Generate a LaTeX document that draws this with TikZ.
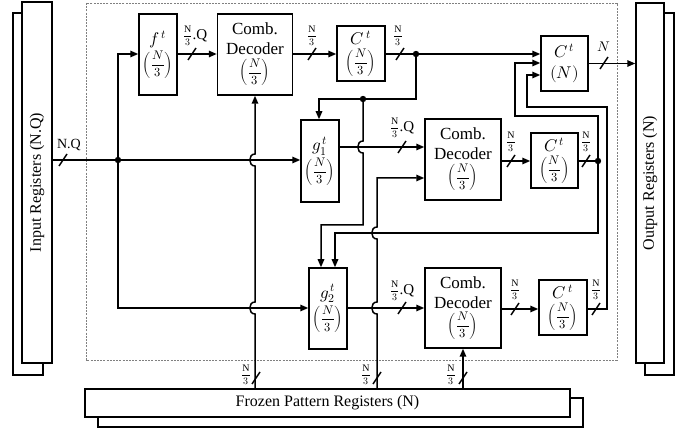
\documentclass[tikz,border=0pt]{standalone}
\usepackage{amsmath}
\usepackage{fontspec}
\usepackage{unicode-math}
\setmainfont{Liberation Serif}
\usetikzlibrary{arrows.meta}
\tikzset{
  box/.style={draw,line width=1.5pt,fill=white,inner sep=0pt,align=center,font=\fontsize{17}{20}\selectfont},
  reg/.style={draw,line width=1.5pt,fill=white,inner sep=0pt},
  wire/.style={line width=1.5pt},
  arr/.style={wire,-{Triangle[length=8pt,width=6.5pt]}},
  lbl/.style={inner sep=0pt,font=\fontsize{10}{12}\selectfont},
  dashbox/.style={draw=gray,line width=0.7pt,dash pattern=on 2pt off 1.2pt},
  busmark/.pic={\draw[line width=1.5pt] (-4,6) -- (4,-6);},
}
\newcommand{\frq}{{\fontsize{12.5}{12.5}\selectfont$\left(\dfrac{N}{3}\right)$}}
\newcommand{\wfr}{$\dfrac{\mathrm{N}}{3}$}
\begin{document}
\begin{tikzpicture}[x=1pt,y=-1pt]
\useasboundingbox (0,0) rectangle (694,430);
\draw[dashbox] (86,3) rectangle (617,360);

% registers
\node[reg,minimum width=30pt,minimum height=362pt] (inregb) at (28,194) {};
\node[reg,minimum width=30pt,minimum height=361pt] (inreg) at (37,182.5) {};
\node[rotate=90,font=\fontsize{16}{18}\selectfont] at (inreg.center) {Input Registers (N.Q)};
\node[reg,minimum width=29pt,minimum height=362pt] (outregb) at (659.5,194) {};
\node[reg,minimum width=28pt,minimum height=360pt] (outreg) at (650,183) {};
\node[rotate=90,font=\fontsize{16}{18}\selectfont] at (outreg.center) {Output Registers (N)};
\node[reg,minimum width=485pt,minimum height=29pt] (frzb) at (340.5,412.5) {};
\node[reg,minimum width=485pt,minimum height=28pt] (frz) at (327.5,403) {};
\node[font=\fontsize{16}{18}\selectfont] at (frz.center) {Frozen Pattern Registers (N)};

% blocks
\node[box,minimum width=38pt,minimum height=81pt] (f) at (158,54.5) {$f^{\,t}$\\[2pt]\frq};
\node[box,minimum width=75pt,minimum height=81pt] (dec1) at (255,54.5) {Comb.\\Decoder\\[1pt]\frq};
\node[box,minimum width=48pt,minimum height=55pt] (c1) at (361,53.5) {$C^{\,t}$\\[2pt]\frq};
\node[box,minimum width=47pt,minimum height=55pt] (cN) at (564.5,63.5) {$C^{\,t}$\\[1pt]$(N)$};
\node[box,minimum width=38pt,minimum height=82pt] (g1) at (320,161) {$g_1^{\,t}$\\[2pt]\frq};
\node[box,minimum width=76pt,minimum height=81pt] (dec2) at (463,159.5) {Comb.\\Decoder\\[1pt]\frq};
\node[box,minimum width=47pt,minimum height=55pt] (c2) at (554.5,160.5) {$C^{\,t}$\\[2pt]\frq};
\node[box,minimum width=38pt,minimum height=81pt] (g2) at (328,308.5) {$g_2^{\,t}$\\[2pt]\frq};
\node[box,minimum width=76pt,minimum height=80pt] (dec3) at (463,308) {Comb.\\Decoder\\[1pt]\frq};
\node[box,minimum width=48pt,minimum height=55pt] (c3) at (563,307.5) {$C^{\,t}$\\[2pt]\frq};

% junctions
\coordinate (j1) at (118,160);
\coordinate (j2) at (416,54);
\coordinate (j3) at (363,99);
\coordinate (j4) at (598,161);
\coordinate (t1) at (255,389);
\coordinate (t2) at (377,389);
\coordinate (t3) at (463,389);

% wires
\draw[arr] (inreg.east |- j1) -- (g1.west |- j1);
\draw[arr] (j1) -- (118,54) -- (f.west |- 0,54);
\draw[arr] (j1) -- (118,308) -- (g2.west |- 0,308);
\draw[arr] (f.east |- 0,54) -- (dec1.west |- 0,54);
\draw[arr] (dec1.east |- 0,54) -- (c1.west |- 0,54);
\draw[arr] (c1.east |- 0,54) -- (cN.west |- 0,54);
\draw[arr] (j2) -- (416,99) -- (319,99) -- (g1.north -| 319,0);
\draw[arr] (j3) -- (363,141) .. controls +(-7,0) and +(-7,0) .. (363,153) -- (363,225) -- (321,225) -- (g2.north -| 321,0);
\draw[arr] (g1.east |- 0,147) -- (dec2.west |- 0,147);
\draw[arr] (t2) -- (377,314) .. controls +(-7,0) and +(-7,0) .. (377,302) -- (377,239) .. controls +(-7,0) and +(-7,0) .. (377,227) -- (377,178) -- (dec2.west |- 0,178);
\draw[arr] (dec2.east |- 0,161) -- (c2.west |- 0,161);
\draw[wire] (c2.east |- j4) -- (j4);
\draw[arr] (j4) -- (598,116) -- (515,116) -- (515,63) -- (cN.west |- 0,63);
\draw[arr] (j4) -- (598,233) -- (335,233) -- (g2.north -| 335,0);
\draw[arr] (g2.east |- 0,308) -- (dec3.west |- 0,308);
\draw[arr] (dec3.east |- 0,309) -- (c3.west |- 0,309);
\draw[arr] (c3.east |- 0,309) -- (607,309) -- (607,107) -- (527,107) -- (527,75) -- (cN.west |- 0,75);
\draw[arr] (cN.east) -- (outreg.west |- cN.east);
\draw[arr] (t1) -- (255,314) .. controls +(-7,0) and +(-7,0) .. (255,302) -- (255,166) .. controls +(-7,0) and +(-7,0) .. (255,154) -- (dec1.south);
\draw[arr] (t3) -- (dec3.south);

\foreach \p in {j1,j2,j3,j4} \fill (\p) circle[radius=3.2pt];

% bus marks
\foreach \x/\y in {63/160,192/54,312/54,400/54,604/63,402/147,511/161,586/161,402/308,515/309,596/309,256/378,377/378,463/378}
  \pic at (\x,\y) {busmark};

% labels
\node[inner sep=0pt,font=\fontsize{14}{14}\selectfont] at (69,145) {N.Q};
\node[lbl] at (195,36) {\wfr\fontsize{15}{15}\selectfont.Q};
\node[lbl] at (312,36) {\wfr};
\node[lbl] at (398,36) {\wfr};
\node[inner sep=0pt,font=\fontsize{14}{14}\selectfont] at (604,47) {$N$};
\node[lbl] at (402,128) {\wfr\fontsize{15}{15}\selectfont.Q};
\node[lbl] at (511,142) {\wfr};
\node[lbl] at (586,142) {\wfr};
\node[lbl] at (402,291) {\wfr\fontsize{15}{15}\selectfont.Q};
\node[lbl] at (515,290) {\wfr};
\node[lbl] at (596,290) {\wfr};
\node[lbl] at (246,375) {\wfr};
\node[lbl] at (366,375) {\wfr};
\node[lbl] at (451,375) {\wfr};
\end{tikzpicture}
\end{document}
